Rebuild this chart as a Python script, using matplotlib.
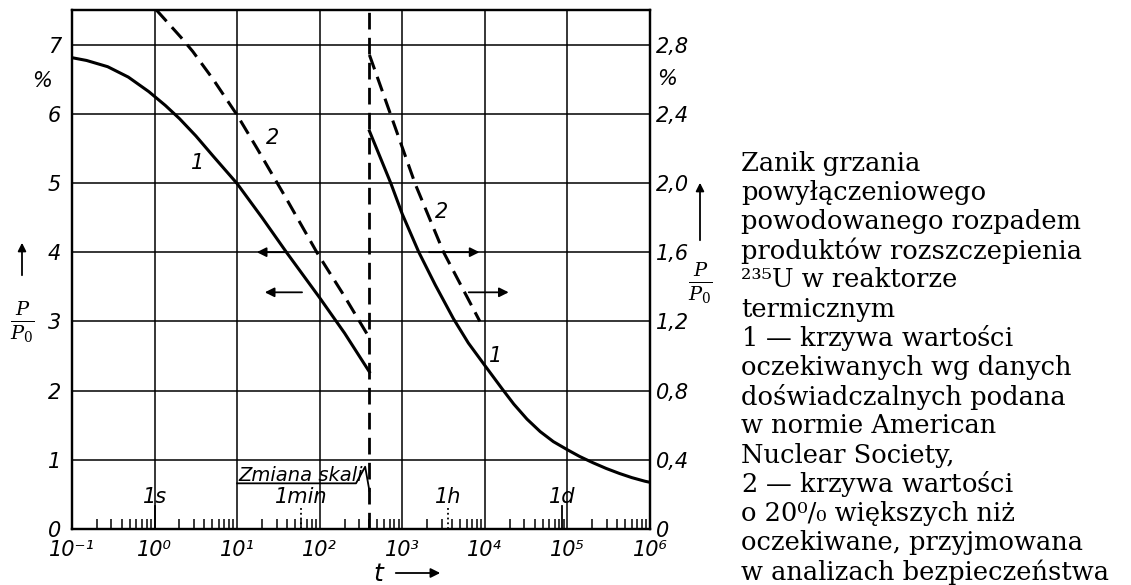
import numpy as np
import matplotlib.pyplot as plt
from matplotlib import rcParams

rcParams['font.family'] = 'DejaVu Sans'
rcParams['mathtext.fontset'] = 'dejavuserif'

# curve 1 (expected values), before the scale change -> left axis, %
t1_a = [0.1, 0.15, 0.27, 0.48, 0.85, 1.35, 2.0, 3.16, 5.1, 10, 20, 40, 100, 200, 400]
p1_a = [6.81, 6.77, 6.68, 6.53, 6.32, 6.12, 5.93, 5.68, 5.39, 4.99, 4.50, 3.99, 3.34, 2.83, 2.27]
# curve 2 (+20 %), before the scale change
t2_a = [1.05, 2.1, 2.9, 5.1, 10, 17.4, 40, 93, 200, 400]
p2_a = [7.50, 7.10, 6.90, 6.50, 5.98, 5.50, 4.76, 3.99, 3.36, 2.76]
# after the scale change -> right axis, %
t1_b = [400, 724, 1000, 1585, 2512, 4170, 6310, 10000, 16200, 22400, 32400, 46800,
        67600, 100000, 141000, 204000, 295000, 427000, 603000, 871000, 1000000]
p1_b = [2.30, 2.00, 1.82, 1.60, 1.41, 1.215, 1.075, 0.945, 0.81, 0.722, 0.635, 0.563,
        0.505, 0.458, 0.419, 0.383, 0.350, 0.321, 0.297, 0.276, 0.27]
t2_b = [400, 794, 1445, 3162, 8700]
p2_b = [2.74, 2.34, 1.99, 1.60, 1.20]

t_switch = 400
xlabels = ['10⁻¹', '10⁰', '10¹', '10²', '10³', '10⁴', '10⁵', '10⁶']
left_ticks = [0, 1, 2, 3, 4, 5, 6, 7]
right_ticks = [0, 0.4, 0.8, 1.2, 1.6, 2.0, 2.4, 2.8]
right_labels = ['0', '0,4', '0,8', '1,2', '1,6', '2,0', '2,4', '2,8']
time_marks = {'1s': 1, '1min': 60, '1h': 3600, '1d': 86400}

caption = [
    'Zanik grzania',
    'powyłączeniowego',
    'powodowanego rozpadem',
    'produktów rozszczepienia',
    '²³⁵U w reaktorze',
    'termicznym',
    r'$\mathit{1}$ — krzywa wartości',
    'oczekiwanych wg danych',
    'doświadczalnych podana',
    'w normie American',
    'Nuclear Society,',
    r'$\mathit{2}$ — krzywa wartości',
    'o 20⁰/₀ większych niż',
    'oczekiwane, przyjmowana',
    'w analizach bezpieczeństwa',
]

fig = plt.figure(figsize=(11.31, 5.85), dpi=100)
ax = fig.add_axes([0.0637, 0.0957, 0.5110, 0.8873])
ax2 = ax.twinx()

ax.set_xscale('log')
ax.set_xlim(0.1, 1e6)
ax.set_ylim(0, 7.5)
ax2.set_ylim(0, 7.5 * 0.4)

lab = dict(fontsize=15, fontstyle='italic')
dash = (0, (5, 2.6))

ax.grid(True, which='major', color='black', lw=1.1)
ax.set_xticks([10.0 ** k for k in range(-1, 7)])
ax.set_xticklabels(xlabels, **lab)
ax.set_yticks(left_ticks)
ax.set_yticklabels([str(v) for v in left_ticks], **lab)
ax.tick_params(axis='x', which='major', length=0, pad=8)
ax.tick_params(axis='y', which='major', length=0, pad=8)
ax.tick_params(axis='x', which='minor', direction='in', length=7, width=1.1, color='black')
ax.tick_params(axis='x', which='minor', labelbottom=False)
ax2.set_yticks(right_ticks)
ax2.set_yticklabels(right_labels, **lab)
ax2.tick_params(axis='y', length=0, pad=4)
for a in (ax, ax2):
    for s in a.spines.values():
        s.set_linewidth(1.6)

ax.plot(t1_a, p1_a, color='black', lw=2.2)
ax.plot(t2_a, p2_a, color='black', lw=2.2, ls=dash)
ax2.plot(t1_b, p1_b, color='black', lw=2.2)
ax2.plot(t2_b, p2_b, color='black', lw=2.2, ls=dash)
ax.axvline(t_switch, color='black', lw=2.0, ls=(0, (6, 3)))

ax.text(3.3, 5.29, '1', ha='center', va='center', **lab)
ax.text(27, 5.65, '2', ha='center', va='center', **lab)
ax2.text(2950, 1.83, '2', ha='center', va='center', **lab)
ax2.text(13500, 1.0, '1', ha='center', va='center', **lab)

ax.text(-0.035, 6.47, '%', transform=ax.get_yaxis_transform(), ha='right', va='center', **lab)
ax2.text(1.012, 2.6, '%', transform=ax2.get_yaxis_transform(), ha='left', va='center', **lab)

# arrows pointing to the scale each curve uses
arrow = dict(arrowstyle='-|>', color='black', lw=1.3, mutation_scale=14)
ax.annotate('', xy=(16, 4.0), xytext=(43, 4.0), arrowprops=arrow)
ax.annotate('', xy=(20, 3.42), xytext=(66, 3.42), arrowprops=arrow)
ax.annotate('', xy=(9300, 4.0), xytext=(1950, 4.0), arrowprops=arrow)
ax.annotate('', xy=(21000, 3.42), xytext=(5900, 3.42), arrowprops=arrow)

for name, tv in time_marks.items():
    style = ':' if name in ('1min', '1h') else '-'
    ax.plot([tv, tv], [0, 0.33], color='black', lw=1.3, ls=style)
    ax.text(tv, 0.46, name, ha='center', va='center', **lab)

ax.text(10.5, 0.70, 'Zmiana skali', ha='left', va='baseline', fontsize=14, fontstyle='italic')
ax.plot([10, 275, 355, 400], [0.66, 0.66, 0.9, 0.55], color='black', lw=1.3)

fig.text(378 / 1131, 1 - 574 / 585, 't', ha='center', va='center', fontsize=18, fontstyle='italic')
ax.annotate('', xy=(443 / 1131, 1 - 573 / 585), xytext=(393 / 1131, 1 - 573 / 585),
            xycoords='figure fraction',
            arrowprops=dict(arrowstyle='-|>', color='black', lw=1.3, mutation_scale=14))

# P/P0 axis labels with arrows
for xf, yf, ya in ((22 / 1131, 1 - 322 / 585, (1 - 278 / 585, 1 - 240 / 585)),
                   (700 / 1131, 1 - 283 / 585, (1 - 243 / 585, 1 - 180 / 585))):
    fig.text(xf, yf, r'$\frac{P}{P_0}$', ha='center', va='center', fontsize=20)
    ax.annotate('', xy=(xf, ya[1]), xytext=(xf, ya[0]), xycoords='figure fraction',
                arrowprops=dict(arrowstyle='-|>', color='black', lw=1.3, mutation_scale=12))

for i, line in enumerate(caption):
    fig.text(741 / 1131, 1 - (163 + i * 29.2) / 585, line, ha='left', va='center',
             fontsize=18.5, family='DejaVu Serif')

fig.savefig('out.png', dpi=100, facecolor='white')
